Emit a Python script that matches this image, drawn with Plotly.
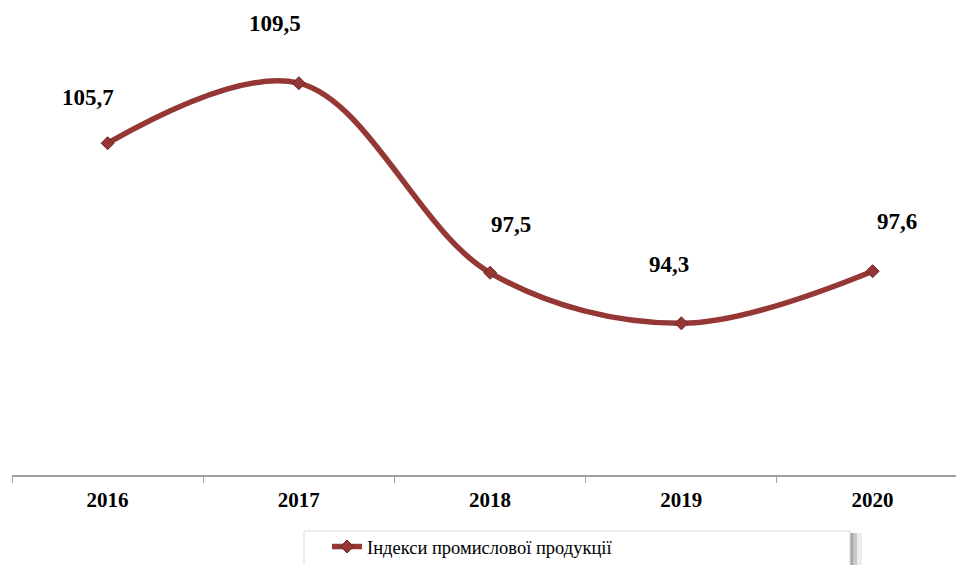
import plotly.graph_objects as go

years = ["2016", "2017", "2018", "2019", "2020"]
values = [105.7, 109.5, 97.5, 94.3, 97.6]
labels = ["105,7", "109,5", "97,5", "94,3", "97,6"]
series_name = "Індекси промислової продукції"

# label offsets in pixels (style/position only)
label_dx = [-20, -24, 21, -12, 24]
label_dy = [46, 60, 48, 59, 50]

W, H = 956, 565
OFF = 0
L, R, T, B = 12, 0, 20, 90
pw = W - L - R
ph = H - T - B

def px_x(px):
    return (px - OFF - L) / pw

def px_y(py):
    return (H - B - (py - OFF)) / ph

color = "#953735"

fig = go.Figure()
fig.add_trace(go.Scatter(
    x=years, y=values, mode="lines+markers", name=series_name,
    line=dict(color=color, width=5.5, shape="spline", smoothing=1.0),
    marker=dict(symbol="diamond", size=10, color=color,
                line=dict(color="#6e2423", width=1)),
))

for i, (v, t, dx, dy) in enumerate(zip(values, labels, label_dx, label_dy)):
    fig.add_annotation(x=i, y=v, xref="x", yref="y", text="<b>" + t + "</b>",
                       showarrow=False, xshift=dx, yshift=dy,
                       font=dict(family="Liberation Serif", size=23, color="#000000"))

# legend box with soft shadow on the right
for x0, x1, c in [(856, 862, "#ececec"), (852, 857, "#c8c8c8"), (849, 853, "#a8a8a8")]:
    fig.add_shape(type="rect", xref="paper", yref="paper",
                  x0=px_x(x0), x1=px_x(x1), y0=px_y(533), y1=px_y(600),
                  fillcolor=c, line=dict(width=0), layer="above")
fig.add_shape(type="rect", xref="paper", yref="paper",
              x0=px_x(304), x1=px_x(850), y0=px_y(531), y1=px_y(600),
              fillcolor="#ffffff", line=dict(color="#d8d8d8", width=1), layer="above")

fig.update_layout(
    width=W, height=H,
    margin=dict(l=L, r=R, t=T, b=B, autoexpand=False),
    paper_bgcolor="white", plot_bgcolor="white",
    showlegend=True,
    legend=dict(x=px_x(327), y=px_y(528), xanchor="left", yanchor="top",
                orientation="h", bgcolor="rgba(0,0,0,0)",
                font=dict(family="Liberation Serif", size=18.5, color="#000000")),
    xaxis=dict(type="category", range=[-0.5, 4.436], automargin=False,
               showline=True, linecolor="#a0a0a0", linewidth=1.5,
               ticks="outside", tickson="boundaries", ticklen=6,
               tickcolor="#a0a0a0", showgrid=False, zeroline=False,
               tickfont=dict(family="Liberation Serif", size=21, color="#000000"),
               tickvals=years, ticktext=["<b>" + y + "</b>" for y in years],
               ticklabelstandoff=5),
    yaxis=dict(range=[84.7, 113.5], visible=False, showgrid=False,
               zeroline=False, automargin=False),
)

fig.write_html("out.html", config={"displayModeBar": False},
               post_script="document.body.style.margin='0';"
                           "document.body.style.overflow='hidden';")
